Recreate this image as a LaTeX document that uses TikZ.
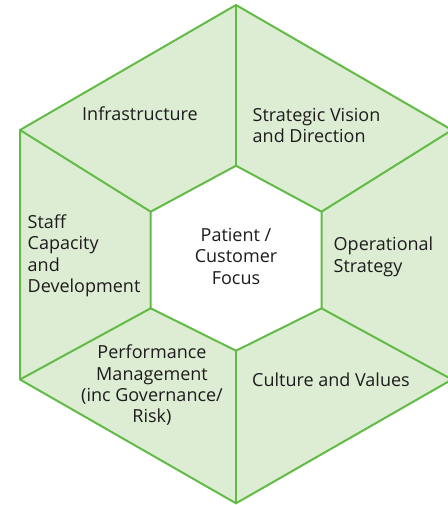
\documentclass[tikz,border=0pt]{standalone}
\usepackage{fontspec}
\setmainfont{Open Sans}
\begin{document}
\begin{tikzpicture}[x=1pt,y=1pt,
  seg/.style={fill=segfill},
  edge/.style={draw=seggreen, line width=2pt, line join=miter},
  lbl/.style={inner sep=0pt, text=txtgrey, font=\fontsize{18}{21.3}\selectfont}]
  \definecolor{seggreen}{HTML}{62BB46}
  \definecolor{segfill}{HTML}{DDEDD4}
  \definecolor{txtgrey}{HTML}{1E1B1C}
  \useasboundingbox (0,0) rectangle (447,-505);

  % outer hexagon corners
  \coordinate (T)  at (236,-5);
  \coordinate (UR) at (452,-130);
  \coordinate (LR) at (452,-379.5);
  \coordinate (B)  at (236,-503.3);
  \coordinate (LL) at (20,-379.5);
  \coordinate (UL) at (20,-130);
  % inner hexagon corners
  \coordinate (t)  at (236,-165.7);
  \coordinate (ur) at (321.5,-211.7);
  \coordinate (lr) at (321.5,-308.3);
  \coordinate (b)  at (236,-350.7);
  \coordinate (ll) at (150.7,-308.3);
  \coordinate (ul) at (150.7,-211.7);

  % ring of six segments
  \fill[seg] (T) -- (UR) -- (LR) -- (B) -- (LL) -- (UL) -- cycle;
  \fill[white] (t) -- (ur) -- (lr) -- (b) -- (ll) -- (ul) -- cycle;

  % outlines and spokes
  \draw[edge] (T) -- (UR) -- (LR) -- (B) -- (LL) -- (UL) -- cycle;
  \draw[edge] (t) -- (ur) -- (lr) -- (b) -- (ll) -- (ul) -- cycle;
  \draw[edge] (T) -- (t);
  \draw[edge] (UR) -- (ur);
  \draw[edge] (LR) -- (lr);
  \draw[edge] (B) -- (b);
  \draw[edge] (LL) -- (ll);
  \draw[edge] (UL) -- (ul);

  % labels
  \node[lbl, anchor=base] (infra) at (140,-120.5) {Infrastructure};
  \node[lbl, anchor=north west, align=left] (vision) at (252.5,-108)
    {Strategic Vision\\and Direction};
  \node[lbl, anchor=north west, align=left] (staff) at (27.5,-214.5)
    {Staff\\Capacity\\and\\Development};
  \node[lbl, anchor=north, align=center] (focus) at (236,-228)
    {Patient /\\Customer\\Focus};
  \node[lbl, anchor=north west, align=left] (ops) at (333.5,-237)
    {Operational\\Strategy};
  \node[lbl, anchor=north, align=center] (perf) at (152,-345)
    {Performance\\Management\\(inc Governance/\\Risk)};
  \node[lbl, anchor=base west] (culture) at (252,-386.5) {Culture and Values};
\end{tikzpicture}
\end{document}
